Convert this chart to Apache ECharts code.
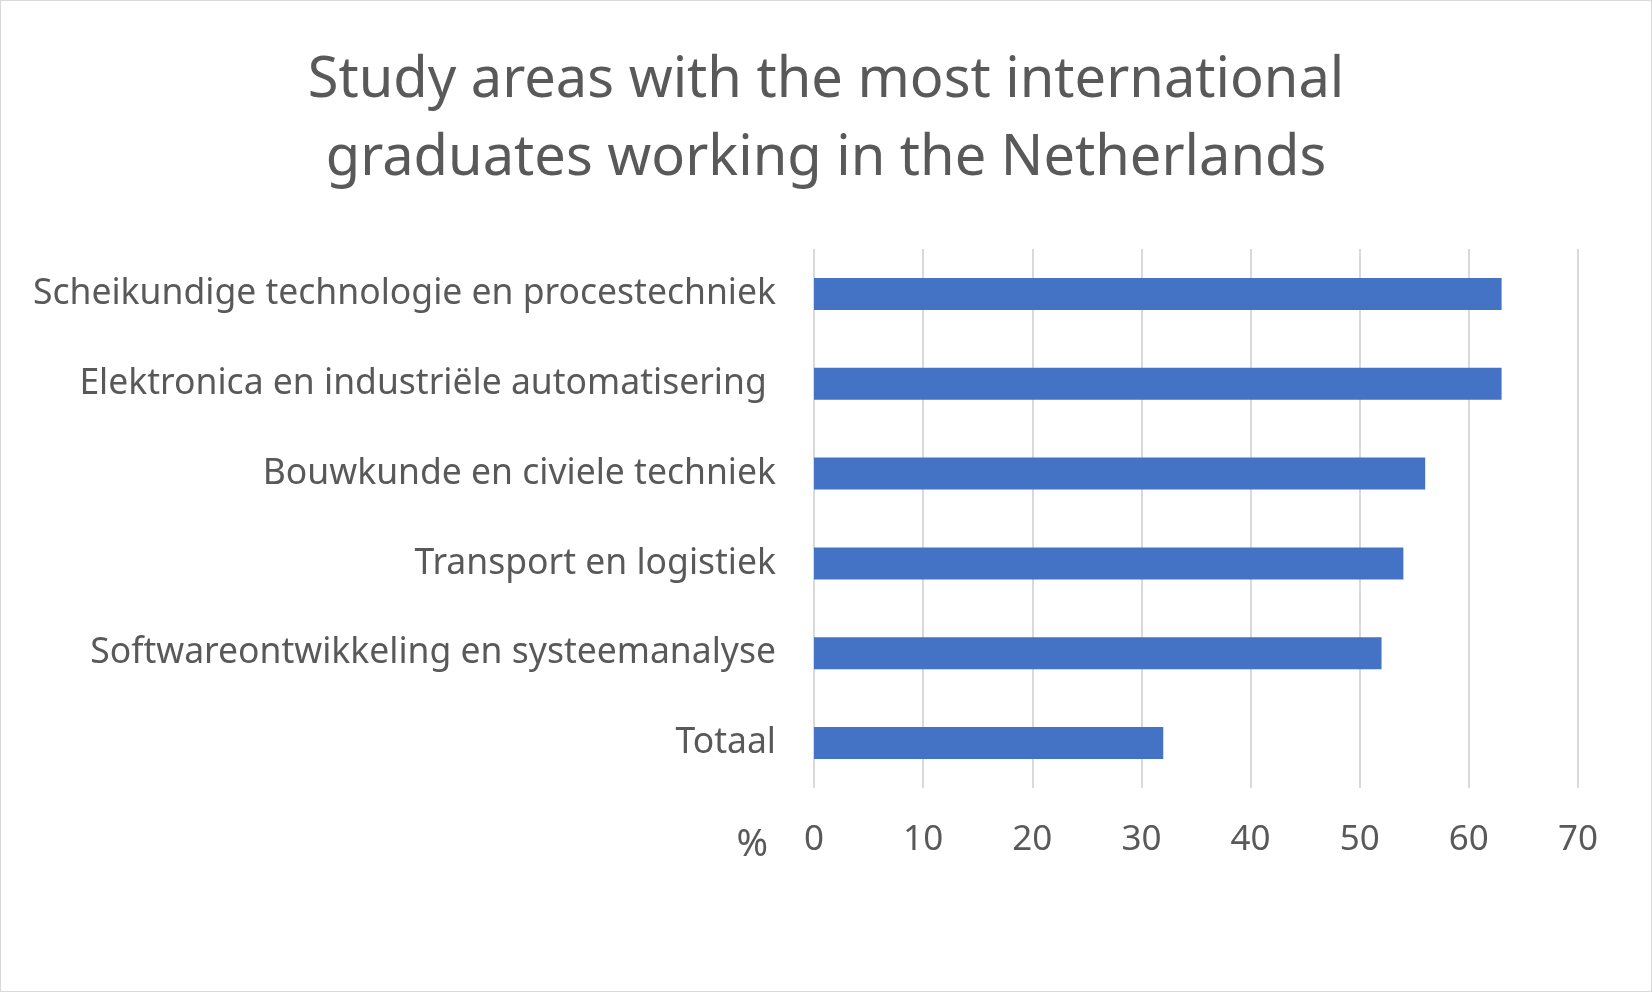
<!DOCTYPE html>
<html>
<head>
<meta charset="utf-8">
<script src="https://cdn.jsdelivr.net/npm/echarts@6/dist/echarts.min.js"></script>
<style>
html,body{margin:0;padding:0;background:#fff;}
#c{width:1650px;height:990px;border:1px solid #d9d9d9;}
</style>
</head>
<body>
<div id="c"></div>
<script>
const categories = [
  "Scheikundige technologie en procestechniek",
  "Elektronica en industriële automatisering ",
  "Bouwkunde en civiele techniek",
  "Transport en logistiek",
  "Softwareontwikkeling en systeemanalyse",
  "Totaal"
];
const values = [63, 63, 56, 54, 52, 32];
const titleLines = ["Study areas with the most international", "graduates working in the Netherlands"];
const axisUnit = "%";

const font = "'Noto Sans', sans-serif";
const chart = echarts.init(document.getElementById('c'));
chart.setOption({
  animation: false,
  title: {
    text: titleLines.join("\n"),
    left: 'center',
    top: 36,
    textStyle: { fontFamily: font, fontSize: 56, fontWeight: 'normal', color: '#595959', lineHeight: 78 }
  },
  grid: { left: 813, right: 73, top: 248, bottom: 203, containLabel: false },
  xAxis: {
    type: 'value', min: 0, max: 70, interval: 10,
    name: axisUnit, nameLocation: 'start', nameGap: 46,
    nameTextStyle: { fontFamily: font, fontSize: 38, color: '#595959', verticalAlign: 'top', padding: [38, 0, 0, 0] },
    axisLine: { show: false }, axisTick: { show: false },
    axisLabel: { fontFamily: font, fontSize: 35, color: '#595959', margin: 35 },
    splitLine: { lineStyle: { color: '#d9d9d9', width: 2 } }
  },
  yAxis: {
    type: 'category', data: categories, inverse: true,
    axisLine: { show: false }, axisTick: { show: false },
    axisLabel: { fontFamily: font, fontSize: 35.5, color: '#595959', margin: 38 }
  },
  series: [{
    type: 'bar', data: values, barWidth: 32,
    itemStyle: { color: '#4472C4' }
  }]
});
</script>
</body>
</html>
